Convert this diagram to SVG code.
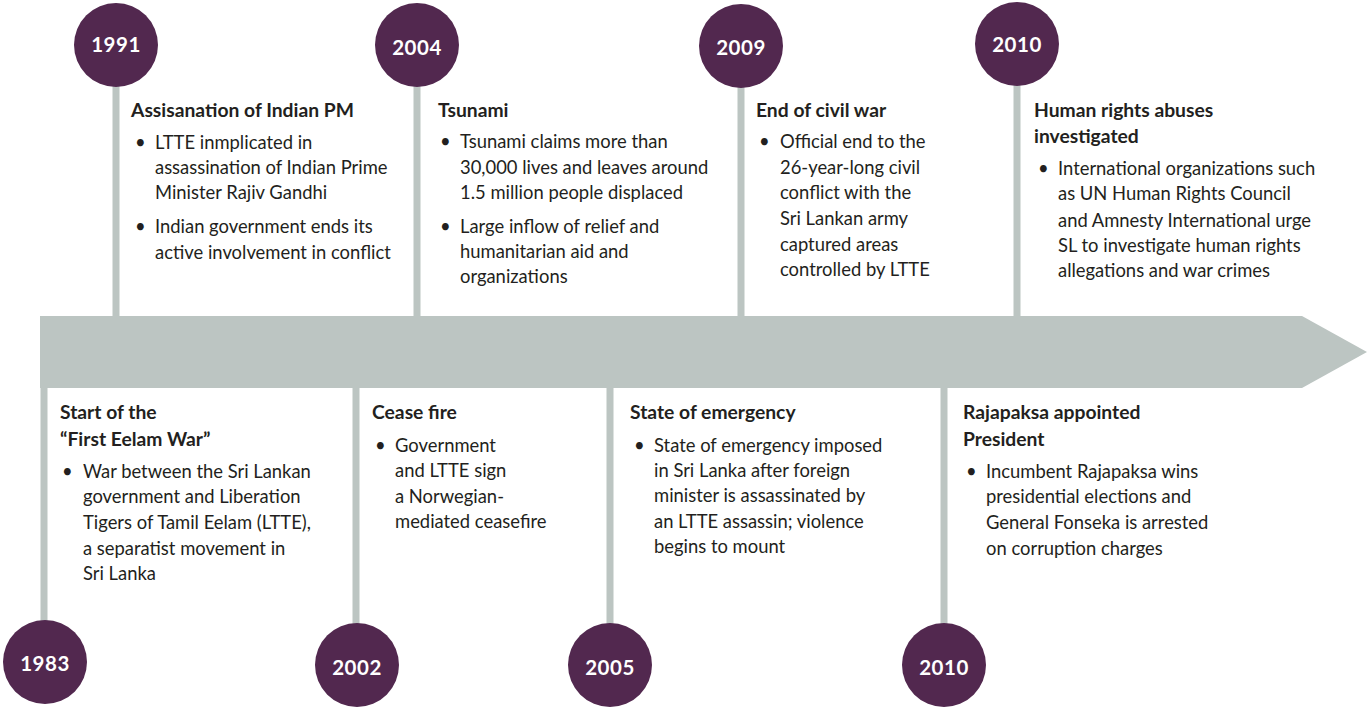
<svg xmlns="http://www.w3.org/2000/svg" width="1367" height="708" viewBox="0 0 1367 708">
<style>
.bg{fill:#ffffff}
.bar{fill:#bcc5c2}
.stem{stroke:#bcc5c2;stroke-width:7;fill:none}
.dot{fill:#52284f}
.yr{font-family:Lato,"Noto Sans",sans-serif;font-weight:700;font-size:20.5px;fill:#ffffff;text-anchor:middle;letter-spacing:0.5px}
.hd{font-family:Lato,"Noto Sans",sans-serif;font-weight:700;font-size:19.3px;fill:#231f20}
.tx{font-family:Lato,"Noto Sans",sans-serif;font-size:18.4px;fill:#231f20}
</style>
<rect class="bg" x="0" y="0" width="1367" height="708"/>
<g id="connectors">
<polygon class="bar" points="40,316 1302,316 1367,352 1302,388 40,388"/>
<line class="stem" x1="116" y1="80" x2="116" y2="316"/>
<line class="stem" x1="417" y1="80" x2="417" y2="316"/>
<line class="stem" x1="741" y1="80" x2="741" y2="316"/>
<line class="stem" x1="1017" y1="80" x2="1017" y2="316"/>
<line class="stem" x1="44" y1="388" x2="44" y2="630"/>
<line class="stem" x1="356" y1="388" x2="356" y2="630"/>
<line class="stem" x1="610" y1="388" x2="610" y2="630"/>
<line class="stem" x1="944" y1="388" x2="944" y2="630"/>
</g>
<g id="n1991">
<circle class="dot" cx="116" cy="45" r="42"/>
<text class="yr" x="116" y="52">1991</text>
<text class="hd" x="131" y="117">Assisanation of Indian PM</text>
<text class="tx" x="135" y="149">•</text>
<text class="tx" x="155" y="149">LTTE inmplicated in</text>
<text class="tx" x="155" y="174">assassination of Indian Prime</text>
<text class="tx" x="155" y="199">Minister Rajiv Gandhi</text>
<text class="tx" x="135" y="233">•</text>
<text class="tx" x="155" y="233">Indian government ends its</text>
<text class="tx" x="155" y="259">active involvement in conflict</text>
</g>
<g id="n2004">
<circle class="dot" cx="417" cy="45" r="42"/>
<text class="yr" x="417" y="55">2004</text>
<text class="hd" x="438" y="117">Tsunami</text>
<text class="tx" x="440" y="148">•</text>
<text class="tx" x="460" y="148">Tsunami claims more than</text>
<text class="tx" x="460" y="174">30,000 lives and leaves around</text>
<text class="tx" x="460" y="199">1.5 million people displaced</text>
<text class="tx" x="440" y="233">•</text>
<text class="tx" x="460" y="233">Large inflow of relief and</text>
<text class="tx" x="460" y="258">humanitarian aid and</text>
<text class="tx" x="460" y="283">organizations</text>
</g>
<g id="n2009">
<circle class="dot" cx="741" cy="46" r="42"/>
<text class="yr" x="741" y="55">2009</text>
<text class="hd" x="756" y="117">End of civil war</text>
<text class="tx" x="759" y="148">•</text>
<text class="tx" x="780" y="148">Official end to the</text>
<text class="tx" x="780" y="174">26-year-long civil</text>
<text class="tx" x="780" y="199">conflict with the</text>
<text class="tx" x="780" y="225">Sri Lankan army</text>
<text class="tx" x="780" y="251">captured areas</text>
<text class="tx" x="780" y="276">controlled by LTTE</text>
</g>
<g id="n2010top">
<circle class="dot" cx="1017" cy="44" r="42"/>
<text class="yr" x="1017" y="52">2010</text>
<text class="hd" x="1034" y="117">Human rights abuses</text>
<text class="hd" x="1034" y="143">investigated</text>
<text class="tx" x="1038" y="175">•</text>
<text class="tx" x="1058" y="175">International organizations such</text>
<text class="tx" x="1058" y="200">as UN Human Rights Council</text>
<text class="tx" x="1058" y="227">and Amnesty International urge</text>
<text class="tx" x="1058" y="252">SL to investigate human rights</text>
<text class="tx" x="1058" y="277">allegations and war crimes</text>
</g>
<g id="n1983">
<circle class="dot" cx="45" cy="662" r="42"/>
<text class="yr" x="45" y="671">1983</text>
<text class="hd" x="60" y="419">Start of the</text>
<text class="hd" x="60" y="446">“First Eelam War”</text>
<text class="tx" x="62" y="478">•</text>
<text class="tx" x="83" y="478">War between the Sri Lankan</text>
<text class="tx" x="83" y="503">government and Liberation</text>
<text class="tx" x="83" y="529">Tigers of Tamil Eelam (LTTE),</text>
<text class="tx" x="83" y="555">a separatist movement in</text>
<text class="tx" x="83" y="580">Sri Lanka</text>
</g>
<g id="n2002">
<circle class="dot" cx="357" cy="665" r="42"/>
<text class="yr" x="357" y="675">2002</text>
<text class="hd" x="372" y="419">Cease fire</text>
<text class="tx" x="375" y="452">•</text>
<text class="tx" x="395" y="452">Government</text>
<text class="tx" x="395" y="477">and LTTE sign</text>
<text class="tx" x="395" y="503">a Norwegian-</text>
<text class="tx" x="395" y="528">mediated ceasefire</text>
</g>
<g id="n2005">
<circle class="dot" cx="610" cy="665" r="42"/>
<text class="yr" x="610" y="675">2005</text>
<text class="hd" x="630" y="419">State of emergency</text>
<text class="tx" x="634" y="452">•</text>
<text class="tx" x="654" y="452">State of emergency imposed</text>
<text class="tx" x="654" y="477">in Sri Lanka after foreign</text>
<text class="tx" x="654" y="502">minister is assassinated by</text>
<text class="tx" x="654" y="528">an LTTE assassin; violence</text>
<text class="tx" x="654" y="553">begins to mount</text>
</g>
<g id="n2010bottom">
<circle class="dot" cx="944" cy="665" r="42"/>
<text class="yr" x="944" y="675">2010</text>
<text class="hd" x="963" y="419">Rajapaksa appointed</text>
<text class="hd" x="963" y="446">President</text>
<text class="tx" x="966" y="478">•</text>
<text class="tx" x="986" y="478">Incumbent Rajapaksa wins</text>
<text class="tx" x="986" y="503">presidential elections and</text>
<text class="tx" x="986" y="529">General Fonseka is arrested</text>
<text class="tx" x="986" y="555">on corruption charges</text>
</g>
</svg>
